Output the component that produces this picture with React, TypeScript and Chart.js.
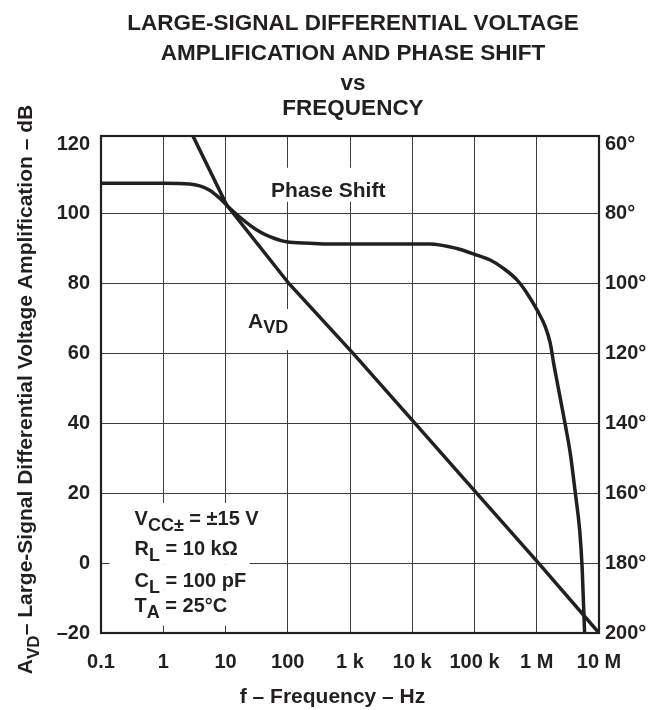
import React, { useEffect, useRef } from "react";
import { Chart, registerables } from "chart.js";

Chart.register(...registerables);

const FONT = "'Liberation Sans', Arial, Helvetica, sans-serif";
const INK = "#231f20";
const GRID = "#3d3d3d";

// ---- text ----
const TITLE_LINES = [
  "LARGE-SIGNAL DIFFERENTIAL VOLTAGE",
  "AMPLIFICATION AND PHASE SHIFT",
  "vs",
  "FREQUENCY",
];
const X_TITLE = "f – Frequency – Hz";
const Y_TITLE_REST = "– Large-Signal Differential Voltage Amplification – dB";

// ---- ticks ----
const FREQ_TICKS = [0.1, 1, 10, 100, 1e3, 1e4, 1e5, 1e6, 1e7];
const FREQ_LABELS = ["0.1", "1", "10", "100", "1 k", "10 k", "100 k", "1 M", "10 M"];
const AVD_TICKS = [-20, 0, 20, 40, 60, 80, 100, 120];
const AVD_TICK_LABELS = ["–20", "0", "20", "40", "60", "80", "100", "120"];
const PHASE_TICKS = [60, 80, 100, 120, 140, 160, 180, 200];
const PHASE_TICK_LABELS = ["60°", "80°", "100°", "120°", "140°", "160°", "180°", "200°"];

// ---- series: large-signal differential voltage amplification (dB) ----
const AVD_FREQ_HZ = [2.78, 10.4, 105, 1130, 11100, 109000, 1070000, 10000000];
const AVD_DB = [123.5, 102.6, 80, 60, 40, 20, 0, -20];

// ---- series: phase shift (degrees) ----
const PHASE_FREQ_HZ = [
  0.1, 1, 2.65, 3.85, 5.57, 8.07, 11.7, 16.9, 24.5, 35.5, 51.5, 95.6, 226, 475,
  2000, 19000, 52000, 109000, 179000, 292000, 481000, 697000, 1010000, 1370000,
  1650000, 1870000, 2250000, 2880000, 3460000, 4170000, 4890000, 5350000,
  5660000, 5900000,
];
const PHASE_DEG = [
  71.25, 71.25, 71.45, 72.0, 73.2, 75.5, 78.4, 80.9, 83.2, 85.1, 86.5, 88.0, 88.4,
  88.6, 88.6, 88.6, 89.9, 91.8, 93.2, 95.6, 98.9, 102.7, 107.5, 112.3, 117.1,
  122.8, 130.4, 140.5, 148.6, 160.0, 170.5, 181.0, 192.4, 201,
];

// ---- annotation anchors (data coordinates) ----
const PHASE_LABEL_AT = { f: 447, db: 104.9 };
const AVD_LABEL_AT = { f: 23, db: 67.3 };
const COND_AT = { f: 0.346, db: [10.9, 2.3, -6.7, -13.9] };

type Seg = { t: string; sub?: boolean };

const CONDITIONS: Seg[][] = [
  [{ t: "V" }, { t: "CC±", sub: true }, { t: " = ±15 V" }],
  [{ t: "R" }, { t: "L", sub: true }, { t: " = 10 kΩ" }],
  [{ t: "C" }, { t: "L", sub: true }, { t: " = 100 pF" }],
  [{ t: "T" }, { t: "A", sub: true }, { t: " = 25°C" }],
];

function fontOf(size: number) {
  return `bold ${size}px ${FONT}`;
}

function measureRich(ctx: CanvasRenderingContext2D, segs: Seg[], size: number, subSize: number) {
  let w = 0;
  for (const s of segs) {
    ctx.font = fontOf(s.sub ? subSize : size);
    w += ctx.measureText(s.t).width;
  }
  return w;
}

function drawRich(
  ctx: CanvasRenderingContext2D,
  segs: Seg[],
  x: number,
  y: number,
  size: number,
  subSize: number,
  subDy: number
) {
  ctx.textAlign = "left";
  ctx.textBaseline = "alphabetic";
  let cx = x;
  for (const s of segs) {
    ctx.font = fontOf(s.sub ? subSize : size);
    ctx.fillText(s.t, cx, s.sub ? y + subDy : y);
    cx += ctx.measureText(s.t).width;
  }
  return cx;
}

const textPlugin = {
  id: "datasheetText",
  beforeDatasetsDraw(chart: any) {
    const { ctx, chartArea: a, scales } = chart;
    const xs = scales.x;
    const ys = scales.y;
    ctx.save();

    // white backgrounds that interrupt the grid
    ctx.fillStyle = "#ffffff";
    ctx.font = fontOf(21);
    const pw = ctx.measureText("Phase Shift").width;
    const px = xs.getPixelForValue(PHASE_LABEL_AT.f);
    const py = ys.getPixelForValue(PHASE_LABEL_AT.db);
    ctx.fillRect(px - pw / 2 - 4, py - 29, pw + 8, 34);

    const avdSegs: Seg[] = [{ t: "A" }, { t: "VD", sub: true }];
    const ax = xs.getPixelForValue(AVD_LABEL_AT.f);
    const ay = ys.getPixelForValue(AVD_LABEL_AT.db);
    const aw = measureRich(ctx, avdSegs, 21, 18);
    ctx.fillRect(ax - 3, ay - 19, aw + 6, 41);

    const cx = xs.getPixelForValue(COND_AT.f);
    const cys = COND_AT.db.map((v) => ys.getPixelForValue(v));
    CONDITIONS.forEach((segs, i) => {
      const w = measureRich(ctx, segs, 20, 18);
      const top = cys[i] - 22;
      const bottom = i < CONDITIONS.length - 1 ? cys[i + 1] - 22 : cys[i] + 14;
      ctx.fillRect(cx - 25, top, w + 37, bottom - top);
    });

    // texts
    ctx.fillStyle = INK;
    ctx.font = fontOf(21);
    ctx.textAlign = "center";
    ctx.textBaseline = "alphabetic";
    ctx.fillText("Phase Shift", px, py);
    drawRich(ctx, avdSegs, ax, ay, 21, 18, 5);
    CONDITIONS.forEach((segs, i) => {
      drawRich(ctx, segs, cx, cys[i], 20, 18, 6);
    });

    // frame
    ctx.strokeStyle = INK;
    ctx.lineWidth = 2.2;
    ctx.strokeRect(a.left, a.top, a.right - a.left, a.bottom - a.top);
    ctx.restore();
  },
  afterDraw(chart: any) {
    const { ctx, chartArea: a } = chart;
    ctx.save();
    ctx.fillStyle = INK;

    // main title
    ctx.font = fontOf(22.5);
    ctx.textAlign = "center";
    ctx.textBaseline = "alphabetic";
    const baselines = [29.5, 59.5, 90, 115];
    TITLE_LINES.forEach((line, i) => ctx.fillText(line, 353, baselines[i]));

    // x title
    ctx.font = fontOf(21);
    ctx.fillText(X_TITLE, 332.5, 703);

    // y title (rotated)
    const segs: Seg[] = [{ t: "A" }, { t: "VD", sub: true }, { t: Y_TITLE_REST }];
    const w = measureRich(ctx, segs, 21, 17);
    ctx.translate(32, (a.top + a.bottom) / 2 + 5);
    ctx.rotate(-Math.PI / 2);
    drawRich(ctx, segs, -w / 2, 0, 21, 17, 7);
    ctx.restore();
  },
};

export default function App() {
  const ref = useRef<HTMLCanvasElement>(null);

  useEffect(() => {
    const prevMargin = document.body.style.margin;
    const prevOverflow = document.body.style.overflow;
    document.body.style.margin = "0";
    document.body.style.overflow = "hidden";

    const canvas = ref.current;
    if (!canvas) return;

    const tickFont = { family: FONT, size: 20, weight: "bold" as const };

    const chart = new Chart(canvas, {
      type: "line",
      data: {
        datasets: [
          {
            label: "AVD",
            data: AVD_FREQ_HZ.map((f, i) => ({ x: f, y: AVD_DB[i] })),
            yAxisID: "y",
            borderColor: INK,
            borderWidth: 3.5,
            pointRadius: 0,
            tension: 0,
            fill: false,
          },
          {
            label: "Phase Shift",
            data: PHASE_FREQ_HZ.map((f, i) => ({ x: f, y: PHASE_DEG[i] })),
            yAxisID: "y2",
            borderColor: INK,
            borderWidth: 3.5,
            pointRadius: 0,
            cubicInterpolationMode: "monotone",
            fill: false,
          },
        ],
      },
      options: {
        animation: false,
        responsive: false,
        events: [],
        layout: { padding: { top: 136, left: 0, right: 0, bottom: 0 } },
        plugins: {
          legend: { display: false },
          title: { display: false },
          tooltip: { enabled: false },
        },
        scales: {
          x: {
            type: "logarithmic",
            position: "bottom",
            min: 0.1,
            max: 1e7,
            afterBuildTicks: (s: any) => {
              s.ticks = FREQ_TICKS.map((v) => ({ value: v }));
            },
            afterFit: (s: any) => {
              s.height = 77;
            },
            ticks: {
              autoSkip: false,
              maxRotation: 0,
              minRotation: 0,
              padding: 17,
              color: INK,
              font: tickFont,
              callback: (_v: any, i: number) => FREQ_LABELS[i] ?? "",
            },
            grid: { color: GRID, lineWidth: 1, drawTicks: false },
            border: { display: false },
          },
          y: {
            type: "linear",
            position: "left",
            min: -20,
            max: 122.3,
            afterBuildTicks: (s: any) => {
              s.ticks = AVD_TICKS.map((v) => ({ value: v }));
            },
            afterFit: (s: any) => {
              s.width = 101;
            },
            ticks: {
              padding: 11,
              color: INK,
              font: tickFont,
              callback: (_v: any, i: number) => AVD_TICK_LABELS[i] ?? "",
            },
            grid: {
              color: (c: any) => (c.tick && c.tick.value === 120 ? "rgba(0,0,0,0)" : GRID),
              lineWidth: 1,
              drawTicks: false,
            },
            border: { display: false },
          },
          y2: {
            type: "linear",
            position: "right",
            reverse: true,
            min: 57.7,
            max: 200,
            afterBuildTicks: (s: any) => {
              s.ticks = PHASE_TICKS.map((v) => ({ value: v }));
            },
            afterFit: (s: any) => {
              s.width = 51;
            },
            ticks: {
              padding: 6,
              color: INK,
              font: tickFont,
              callback: (_v: any, i: number) => PHASE_TICK_LABELS[i] ?? "",
            },
            grid: { display: false, drawTicks: false },
            border: { display: false },
          },
        },
      },
      plugins: [textPlugin],
    });

    return () => {
      chart.destroy();
      document.body.style.margin = prevMargin;
      document.body.style.overflow = prevOverflow;
    };
  }, []);

  return <canvas ref={ref} width={650} height={710} style={{ display: "block" }} />;
}
